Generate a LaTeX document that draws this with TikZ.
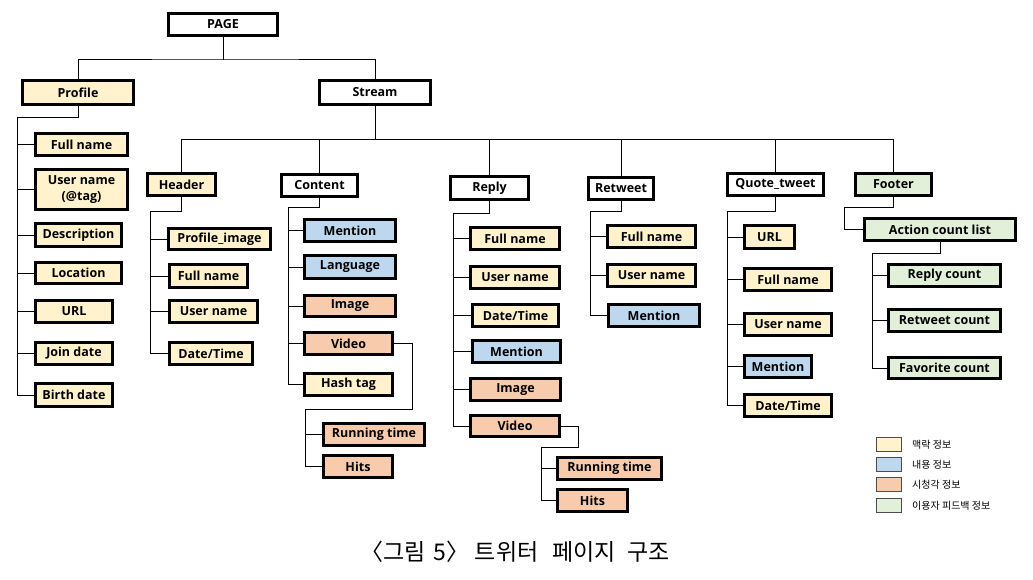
\documentclass[tikz,border=0pt]{standalone}
\usepackage{fontspec}
\setmainfont{Open Sans}
\newfontfamily\kr{Noto Sans CJK KR}
\usetikzlibrary{backgrounds}
\definecolor{cbeige}{HTML}{FFF2CC}
\definecolor{cblue}{HTML}{BDD7EE}
\definecolor{corange}{HTML}{F8CBAD}
\definecolor{cgreen}{HTML}{E2F0D9}
\definecolor{cline}{RGB}{67,156,226}
\tikzset{
  bx/.style={draw=black, line width=2.6pt, inner sep=0pt, align=center, font=\bfseries\fontsize{12.5}{14.5}\selectfont},
  wh/.style={bx, fill=white},
  be/.style={bx, fill=cbeige},
  bl/.style={bx, fill=cblue},
  og/.style={bx, fill=corange},
  gr/.style={bx, fill=cgreen},
  conn/.style={draw=cline, line width=2.4pt},
  leg/.style={draw=black!70, line width=0.8pt, inner sep=0pt, minimum width=25pt, minimum height=14pt},
  legtxt/.style={anchor=west, inner sep=0pt, font=\kr\fontsize{10}{12}\selectfont}
}
\newcommand{\bxn}[7]{\node[#6, minimum width={(#4-#2-2.6)*1pt}, minimum height={(#5-#3-2.6)*1pt}] (#1) at ({(#2+#4)/2},{(#3+#5)/2}) {#7};}
\begin{document}
\begin{tikzpicture}[x=1pt,y=-1pt]
\useasboundingbox (0,0) rectangle (1033,579);
% nodes
\bxn{page}{167}{12}{279}{37}{wh}{PAGE}
\bxn{profile}{21}{79}{135}{106}{be}{Profile}
\bxn{stream}{318}{79}{432}{106}{wh}{Stream}
\bxn{p1}{34}{132}{129}{157}{be}{Full name}
\bxn{p2}{34}{168}{129}{211}{be}{User name\\[1.5pt](@tag)}
\bxn{p3}{34}{222}{123}{248}{be}{Description}
\bxn{p4}{34}{261}{123}{285}{be}{Location}
\bxn{p5}{34}{299}{114}{324}{be}{URL}
\bxn{p6}{34}{341}{114}{366}{be}{Join date}
\bxn{p7}{34}{382}{114}{408}{be}{Birth date}
\bxn{header}{146}{172}{217}{197}{be}{Header}
\bxn{h1}{167}{227}{272}{251}{be}{Profile\_image}
\bxn{h2}{168}{263}{249}{289}{be}{Full name}
\bxn{h3}{168}{299}{259}{324}{be}{User name}
\bxn{h4}{168}{341}{254}{366}{be}{Date/Time}
\bxn{content}{280}{173}{359}{198}{wh}{Content}
\bxn{c1}{303}{218}{397}{243}{bl}{Mention}
\bxn{c2}{303}{254}{397}{280}{bl}{Language}
\bxn{c3}{303}{294}{397}{318}{og}{Image}
\bxn{c4}{303}{331}{394}{356}{og}{Video}
\bxn{c5}{303}{372}{394}{397}{be}{Hash tag}
\bxn{c6}{322}{422}{426}{447}{og}{Running time}
\bxn{c7}{322}{454}{394}{479}{og}{Hits}
\bxn{reply}{449}{175}{530}{201}{wh}{Reply}
\bxn{r1}{469}{226}{561}{251}{be}{Full name}
\bxn{r2}{469}{265}{561}{290}{be}{User name}
\bxn{r3}{471}{303}{560}{328}{be}{Date/Time}
\bxn{r4}{471}{339}{562}{364}{bl}{Mention}
\bxn{r5}{469}{377}{562}{402}{og}{Image}
\bxn{r6}{469}{414}{561}{438}{og}{Video}
\bxn{r7}{556}{456}{663}{481}{og}{Running time}
\bxn{r8}{556}{488}{629}{513}{og}{Hits}
\bxn{retweet}{587}{176}{655}{201}{wh}{Retweet}
\bxn{t1}{606}{224}{697}{249}{be}{Full name}
\bxn{t2}{606}{263}{697}{288}{be}{User name}
\bxn{t3}{607}{303}{701}{328}{bl}{Mention}
\bxn{quote}{726}{172}{825}{197}{wh}{Quote\_tweet}
\bxn{q1}{743}{224}{796}{250}{be}{URL}
\bxn{q2}{743}{267}{833}{292}{be}{Full name}
\bxn{q3}{743}{312}{833}{337}{be}{User name}
\bxn{q4}{743}{354}{813}{379}{bl}{Mention}
\bxn{q5}{743}{393}{833}{418}{be}{Date/Time}
\bxn{footer}{854}{172}{933}{197}{gr}{Footer}
\bxn{f1}{863}{217}{1017}{242}{gr}{Action count list}
\bxn{f2}{887}{263}{1002}{288}{gr}{Reply count}
\bxn{f3}{887}{308}{1002}{333}{gr}{Retweet count}
\bxn{f4}{887}{356}{1002}{380}{gr}{Favorite count}
% trunk coordinates
\coordinate (pagebus) at (224,59);
\coordinate (streambus) at (375,139);
\coordinate (ptrunk) at (17,117);
\coordinate (htrunk) at (150,211);
\coordinate (ctrunk) at (288,207);
\coordinate (cv1) at (412,409);
\coordinate (cvtrunk) at (305,409);
\coordinate (rtrunk) at (453,213);
\coordinate (rv1) at (578,447);
\coordinate (rvtrunk) at (541,447);
\coordinate (ttrunk) at (590,211);
\coordinate (qtrunk) at (727,211);
\coordinate (ftrunk) at (844,207);
\coordinate (atrunk) at (872,253);
% connectors, behind boxes
\begin{scope}[on background layer, conn]
\draw (page.south) |- (pagebus) -| (profile.north);
\draw (page.south) |- (pagebus) -| (stream.north);
\foreach \c in {header,content,reply,retweet,quote,footer}
  \draw (stream.south) |- (streambus) -| (\c.north);
\foreach \c in {p1,p2,p3,p4,p5,p6,p7}
  \draw (profile.south) |- (ptrunk) |- (\c.west);
\foreach \c in {h1,h2,h3,h4}
  \draw (header.south) |- (htrunk) |- (\c.west);
\foreach \c in {c1,c2,c3,c4,c5}
  \draw (content.south) |- (ctrunk) |- (\c.west);
\foreach \c in {c6,c7}
  \draw (c4.east) -| (cv1) -- (cvtrunk) |- (\c.west);
\foreach \c in {r1,r2,r3,r4,r5,r6}
  \draw (reply.south) |- (rtrunk) |- (\c.west);
\foreach \c in {r7,r8}
  \draw (r6.east) -| (rv1) -- (rvtrunk) |- (\c.west);
\foreach \c in {t1,t2,t3}
  \draw (retweet.south) |- (ttrunk) |- (\c.west);
\foreach \c in {q1,q2,q3,q4,q5}
  \draw (quote.south) |- (qtrunk) |- (\c.west);
\draw (footer.south) |- (ftrunk) |- (f1.west);
\foreach \c in {f2,f3,f4}
  \draw (f1.south) |- (atrunk) |- (\c.west);
\end{scope}
% legend
\node[leg, fill=cbeige] (l1) at (889,444.5) {};
\node[leg, fill=cblue] (l2) at (889,464.5) {};
\node[leg, fill=corange] (l3) at (889,484.5) {};
\node[leg, fill=cgreen] (l4) at (889,505.5) {};
\node[legtxt] (lt1) at (912,444.5) {맥락 정보};
\node[legtxt] (lt2) at (912,464.5) {내용 정보};
\node[legtxt] (lt3) at (912,484.5) {시청각 정보};
\node[legtxt] (lt4) at (912,505.5) {이용자 피드백 정보};
% caption
\node[inner sep=0pt, font=\kr\fontsize{23}{25}\selectfont] (cap) at (515,552) {〈그림\hspace{0.35em}5〉 트위터\hspace{0.6em}페이지\hspace{0.5em}구조};
\end{tikzpicture}
\end{document}
